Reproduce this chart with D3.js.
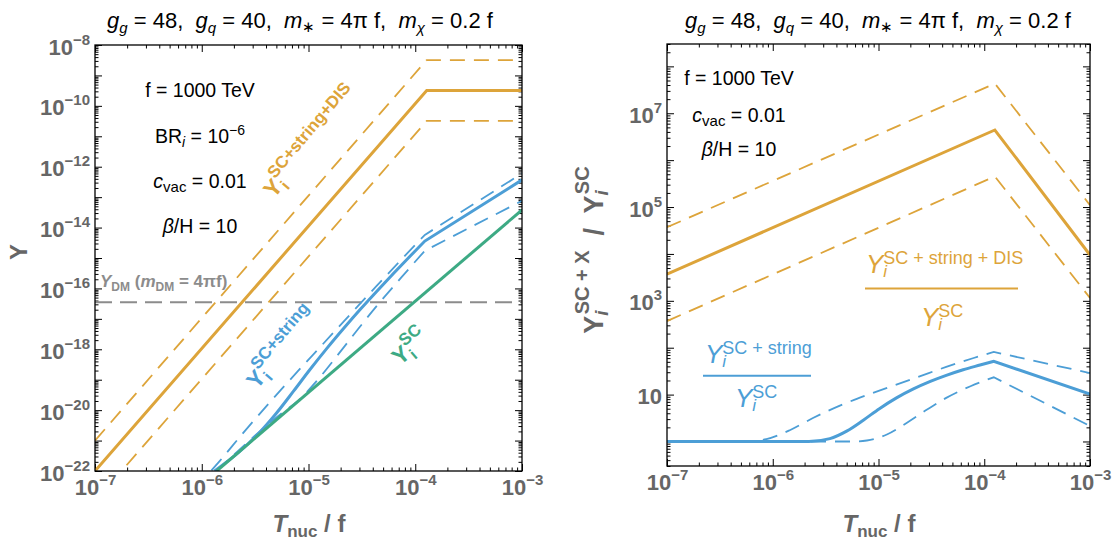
<!DOCTYPE html>
<html>
<head>
<meta charset="utf-8">
<script src="https://cdn.jsdelivr.net/npm/d3@7"></script>
<style>
  body { margin: 0; background: #fff; }
  svg { font-family: "Liberation Sans", Arial, Helvetica, sans-serif; }
  text { white-space: pre; }
</style>
</head>
<body>
<svg id="chart" width="1119" height="543"></svg>
<script>
// ---------- tick labels (powers of ten) ----------
const xLabelExps = [-7, -6, -5, -4, -3];
const leftYLabelExps = [-22, -20, -18, -16, -14, -12, -10, -8];
const rightYLabelExps = [1, 3, 5, 7];

// ---------- left panel: yields Y versus T_nuc / f ----------
const yieldDM = 3.5e-17;

const orangeT = [1e-7, 1.28e-4, 1e-3];
const orangeY = [1e-22, 3.2e-10, 3.2e-10];
const orangeYHi = [1e-21, 3.2e-9, 3.2e-9];
const orangeYLo = [1e-23, 3.2e-11, 3.2e-11];

const scT = [1.38e-6, 1e-3];
const scY = [1e-22, 3.8e-14];

const kinkT = 1.23e-4;

const strT = [1.32e-6, 2.2e-6, 3.47e-6, 5.0e-6, 7.24e-6, 1.02e-5, 1.48e-5, 2.14e-5, 3.09e-5, 4.37e-5, 6.31e-5, 9.12e-5, 1.23e-4, 1e-3];
const strY = [1e-22, 4.0e-22, 1.82e-21, 7.9e-21, 4.2e-20, 2.04e-19, 1.05e-18, 4.9e-18, 2.14e-17, 8.1e-17, 3.2e-16, 1.23e-15, 3.6e-15, 3.7e-13];

const strHiT = [8.7e-7, 1.45e-6, 2.4e-6, 4.37e-6, 7.76e-6, 1.38e-5, 2.45e-5, 4.37e-5, 7.94e-5, 1.23e-4, 1e-3];
const strHiY = [2.8e-23, 2.0e-22, 1.66e-21, 1.86e-20, 1.74e-19, 1.55e-18, 1.38e-17, 1.23e-16, 1.15e-15, 5.75e-15, 6.0e-13];

const strLoT = [1.38e-6, 6.0e-6, 7.76e-6, 1.20e-5, 1.86e-5, 2.88e-5, 4.37e-5, 7.41e-5, 1.23e-4, 1e-3];
const strLoY = [1e-22, 9.5e-21, 1.86e-20, 9.3e-20, 6.2e-19, 4.4e-18, 2.7e-17, 2.3e-16, 1.74e-15, 7.6e-14];

// ---------- right panel: ratios Y^(SC+X) / Y^SC ----------
const disRatioT = [1e-7, 1.26e-4, 1e-3];
const disRatio = [3.7e3, 4.4e6, 9.5e3];
const disRatioHi = [3.7e4, 4.3e7, 1.1e5];
const disRatioLo = [370, 4.5e5, 1.15e3];

const strRatioT = [1e-7, 2.2e-6, 3.47e-6, 5.0e-6, 7.24e-6, 1.02e-5, 1.48e-5, 2.14e-5, 3.09e-5, 4.37e-5, 6.31e-5, 9.12e-5, 1.23e-4, 1e-3];
const strRatio = [1, 1, 1.15, 1.66, 2.88, 5.01, 8.51, 13.2, 19.1, 25.7, 33.9, 42.7, 51.3, 10.2];

const strRatioHiT = [1e-7, 5.6e-7, 8.7e-7, 1.45e-6, 2.4e-6, 4.37e-6, 7.76e-6, 1.38e-5, 2.45e-5, 4.37e-5, 7.94e-5, 1.23e-4, 1e-3];
const strRatioHi = [1, 1, 1.12, 1.74, 3.16, 5.89, 9.77, 15.5, 24.5, 38.9, 60.3, 81.3, 28.8];

const strRatioLoT = [1e-7, 6.0e-6, 7.76e-6, 1.20e-5, 1.86e-5, 2.88e-5, 4.37e-5, 7.41e-5, 1.23e-4, 1e-3];
const strRatioLo = [1, 1, 1.05, 1.41, 2.51, 4.79, 8.51, 15.1, 23.4, 2.14];

// ---------- styling ----------
const ORANGE = "#DDA43A";
const BLUE = "#4C9ED6";
const GREEN = "#3DAA84";
const GRAY_TXT = "#666666";
const DASH = "15,9";

const svg = d3.select("#chart");
const defs = svg.append("defs");

function decades(lo, hi) {
  const out = [];
  for (let e = Math.ceil(Math.log10(lo) - 1e-9); e <= Math.floor(Math.log10(hi) + 1e-9); e++) out.push(Math.pow(10, e));
  return out;
}
function minors(lo, hi) {
  const out = [];
  for (let e = Math.floor(Math.log10(lo)) - 1; e <= Math.ceil(Math.log10(hi)); e++) {
    for (let k = 2; k <= 9; k++) {
      const v = k * Math.pow(10, e);
      if (v >= lo * 0.9999 && v <= hi * 1.0001) out.push(v);
    }
  }
  return out;
}
function powText(sel, v, sup) {
  const e = Math.round(Math.log10(v));
  sel.text(null);
  if (e === 1) { sel.text("10"); return; }
  sel.append("tspan").text("10");
  sel.append("tspan").attr("font-size", sup.size).attr("dy", sup.dy)
    .text(e < 0 ? "\u2212" + (-e) : String(e));
}

function makePanel(cfg) {
  const x = d3.scaleLog().domain([1e-7, 1e-3]).range([cfg.left, cfg.right]);
  const y = d3.scaleLog().domain(cfg.yDomain).range([cfg.bottom, cfg.top]);
  const g = svg.append("g");

  const clipId = "clip-" + cfg.id;
  defs.append("clipPath").attr("id", clipId).append("rect")
    .attr("x", cfg.left).attr("y", cfg.top)
    .attr("width", cfg.right - cfg.left).attr("height", cfg.bottom - cfg.top);

  const xMaj = decades(1e-7, 1e-3), xMin = minors(1e-7, 1e-3);
  const yMaj = decades(cfg.yDomain[0], cfg.yDomain[1]), yMin = minors(cfg.yDomain[0], cfg.yDomain[1]);
  const labX = new Set(xLabelExps);
  const labY = new Set(cfg.yLabelExps);

  const axes = g.append("g").attr("class", "axes");
  const styleTicks = sel => {
    sel.select(".domain").remove();
    sel.selectAll(".tick line").attr("stroke", "#000").attr("stroke-width", 1);
  };

  // minor ticks on all four sides
  axes.append("g").attr("transform", `translate(0,${cfg.bottom})`)
    .call(d3.axisBottom(x).tickValues(xMin).tickSize(-3.5).tickFormat("")).call(styleTicks);
  axes.append("g").attr("transform", `translate(0,${cfg.top})`)
    .call(d3.axisTop(x).tickValues(xMin).tickSize(-3.5).tickFormat("")).call(styleTicks);
  axes.append("g").attr("transform", `translate(${cfg.left},0)`)
    .call(d3.axisLeft(y).tickValues(yMin).tickSize(-3.5).tickFormat("")).call(styleTicks);
  axes.append("g").attr("transform", `translate(${cfg.right},0)`)
    .call(d3.axisRight(y).tickValues(yMin).tickSize(-3.5).tickFormat("")).call(styleTicks);

  // major ticks with power-of-ten labels
  const bx = axes.append("g").attr("transform", `translate(0,${cfg.bottom})`)
    .call(d3.axisBottom(x).tickValues(xMaj).tickSize(-7).tickFormat(d => d)).call(styleTicks);
  bx.selectAll(".tick text").each(function (d) {
    const t = d3.select(this);
    if (!labX.has(Math.round(Math.log10(d)))) { t.remove(); return; }
    t.attr("y", 24).attr("dy", 0);
    powText(t, d, { size: 15, dy: -10 });
  }).attr("fill", GRAY_TXT).attr("font-size", 22).attr("font-weight", "bold")
    .attr("font-family", "Liberation Sans, Arial, sans-serif");

  axes.append("g").attr("transform", `translate(0,${cfg.top})`)
    .call(d3.axisTop(x).tickValues(xMaj).tickSize(-7).tickFormat("")).call(styleTicks);

  const ly = axes.append("g").attr("transform", `translate(${cfg.left},0)`)
    .call(d3.axisLeft(y).tickValues(yMaj).tickSize(-7).tickFormat(d => d)).call(styleTicks);
  ly.selectAll(".tick text").each(function (d) {
    const t = d3.select(this);
    if (!labY.has(Math.round(Math.log10(d)))) { t.remove(); return; }
    t.attr("x", -5).attr("y", 9).attr("dy", 0);
    powText(t, d, { size: 15, dy: -10 });
  }).attr("fill", GRAY_TXT).attr("font-size", 22).attr("font-weight", "bold")
    .attr("font-family", "Liberation Sans, Arial, sans-serif");

  axes.append("g").attr("transform", `translate(${cfg.right},0)`)
    .call(d3.axisRight(y).tickValues(yMaj).tickSize(-7).tickFormat("")).call(styleTicks);

  const plot = g.append("g").attr("clip-path", `url(#${clipId})`);

  g.append("rect").attr("x", cfg.left).attr("y", cfg.top)
    .attr("width", cfg.right - cfg.left).attr("height", cfg.bottom - cfg.top)
    .attr("fill", "none").attr("stroke", "#000").attr("stroke-width", 1.3);

  return { x, y, g, plot, cfg };
}

// draw a series: smooth up to the kink, straight after it
function series(p, T, V, style) {
  const pts = T.map((t, i) => [p.x(t), p.y(V[i])]);
  const kx = p.x(style.kink || 1e9);
  const head = pts.filter(d => d[0] <= kx + 0.01);
  const tail = pts.filter(d => d[0] >= kx - 0.01);
  const curve = style.smooth ? d3.curveMonotoneX : d3.curveLinear;
  const gen = d3.line().curve(curve);
  let dStr = gen(head);
  if (tail.length > 1) dStr += d3.line()(tail).replace(/^M/, "L");
  p.plot.append("path").attr("d", dStr)
    .attr("fill", "none").attr("stroke", style.color)
    .attr("stroke-width", style.width)
    .attr("stroke-dasharray", style.dash || null)
    .attr("stroke-linejoin", "miter");
}

function title(cx) {
  const t = svg.append("text").attr("x", cx).attr("y", 28).attr("text-anchor", "middle")
    .attr("font-size", 22).attr("fill", "#000").attr("xml:space", "preserve");
  const add = (s, o = {}) => {
    const ts = t.append("tspan").text(s);
    if (o.it) ts.attr("font-style", "italic");
    if (o.size) ts.attr("font-size", o.size);
    if (o.dy) ts.attr("dy", o.dy);
    return ts;
  };
  add("g", { it: 1 }); add("g", { it: 1, size: 15, dy: 5 }); add(" = 48,  ", { dy: -5 });
  add("g", { it: 1 }); add("q", { it: 1, size: 15, dy: 5 }); add(" = 40,  ", { dy: -5 });
  add("m", { it: 1 }); add("\u2217", { size: 15, dy: 4 }); add(" = 4\u03C0 f,  ", { dy: -4 });
  add("m", { it: 1 }); add("\u03C7", { it: 1, size: 15, dy: 5 }); add(" = 0.2 f", { dy: -5 });
}

function xTitle(cx) {
  const t = svg.append("text").attr("x", cx).attr("y", 532).attr("text-anchor", "middle")
    .attr("font-size", 24).attr("font-weight", "bold").attr("fill", GRAY_TXT);
  t.append("tspan").attr("font-style", "italic").text("T");
  t.append("tspan").attr("font-size", 17).attr("dy", 5).text("nuc");
  t.append("tspan").attr("dy", -5).text(" / f");
}

// ================= left panel =================
const L = makePanel({ id: "left", left: 95, right: 522, top: 45, bottom: 471,
  yDomain: [1e-22, 1e-8], yLabelExps: leftYLabelExps });

L.plot.append("line")
  .attr("x1", L.cfg.left).attr("x2", L.cfg.right)
  .attr("y1", L.y(yieldDM)).attr("y2", L.y(yieldDM))
  .attr("stroke", "#8c8c8c").attr("stroke-width", 2).attr("stroke-dasharray", "17,8");

series(L, orangeT, orangeYHi, { color: ORANGE, width: 1.8, dash: DASH });
series(L, orangeT, orangeYLo, { color: ORANGE, width: 1.8, dash: DASH });
series(L, orangeT, orangeY, { color: ORANGE, width: 3 });

series(L, strLoT, strLoY, { color: BLUE, width: 1.8, dash: DASH, smooth: true, kink: kinkT });
series(L, strHiT, strHiY, { color: BLUE, width: 1.8, dash: DASH, smooth: true, kink: kinkT });
series(L, strT, strY, { color: BLUE, width: 3, smooth: true, kink: kinkT });
series(L, scT, scY, { color: GREEN, width: 3 });

// parameter block
{
  const cx = 200;
  const mk = y => svg.append("text").attr("x", cx).attr("y", y).attr("font-size", 19.5)
    .attr("fill", "#000").attr("text-anchor", "middle");
  mk(97).text("f = 1000 TeV");
  let t = mk(143);
  t.append("tspan").text("BR");
  t.append("tspan").attr("font-style", "italic").attr("font-size", 14).attr("dy", 4).text("i");
  t.append("tspan").attr("dy", -4).text(" = 10");
  t.append("tspan").attr("font-size", 14).attr("dy", -8).text("\u22126");
  t = mk(188);
  t.append("tspan").attr("font-style", "italic").text("c");
  t.append("tspan").attr("font-size", 15).attr("dy", 4).text("vac");
  t.append("tspan").attr("dy", -4).text(" = 0.01");
  t = mk(233);
  t.append("tspan").attr("font-style", "italic").text("\u03B2");
  t.append("tspan").text("/H = 10");
}

// Y_DM label
{
  const t = svg.append("text").attr("x", 100).attr("y", 287).attr("font-size", 17)
    .attr("font-weight", "bold").attr("fill", "#8c8c8c");
  t.append("tspan").attr("font-style", "italic").text("Y");
  t.append("tspan").attr("font-size", 12).attr("dy", 4).text("DM");
  t.append("tspan").attr("dy", -4).text(" (");
  t.append("tspan").attr("font-style", "italic").text("m");
  t.append("tspan").attr("font-size", 12).attr("dy", 4).text("DM");
  t.append("tspan").attr("dy", -4).text(" = 4\u03C0f)");
}

// rotated curve labels
function curveLabel(x, y, angle, color, sup) {
  const t = svg.append("text").attr("transform", `translate(${x},${y}) rotate(${angle})`)
    .attr("font-weight", "bold").attr("fill", color).attr("font-size", 23);
  t.append("tspan").text("Y");
  t.append("tspan").attr("font-size", 16).attr("dy", 5).text("i");
  t.append("tspan").attr("font-size", 17).attr("dx", -4).attr("dy", -17).text(sup);
}
curveLabel(274, 199, -50, ORANGE, "SC+string+DIS");
curveLabel(257, 390, -50, BLUE, "SC+string");
curveLabel(400, 366, -40, GREEN, "SC");

// y axis title
svg.append("text").attr("transform", "translate(27,252) rotate(-90)")
  .attr("text-anchor", "middle").attr("font-size", 24).attr("font-weight", "bold")
  .attr("fill", GRAY_TXT).text("Y");

// ================= right panel =================
const R = makePanel({ id: "right", left: 667, right: 1090, top: 44, bottom: 466,
  yDomain: [0.3, 3e8], yLabelExps: rightYLabelExps });

series(R, disRatioT, disRatioHi, { color: ORANGE, width: 1.8, dash: DASH });
series(R, disRatioT, disRatioLo, { color: ORANGE, width: 1.8, dash: DASH });
series(R, disRatioT, disRatio, { color: ORANGE, width: 3 });

series(R, strRatioHiT, strRatioHi, { color: BLUE, width: 1.8, dash: DASH, smooth: true, kink: kinkT });
series(R, strRatioLoT, strRatioLo, { color: BLUE, width: 1.8, dash: DASH, smooth: true, kink: kinkT });
series(R, strRatioT, strRatio, { color: BLUE, width: 3, smooth: true, kink: kinkT });

// parameter block
{
  const cx = 739;
  const mk = y => svg.append("text").attr("x", cx).attr("y", y).attr("font-size", 19.5)
    .attr("fill", "#000").attr("text-anchor", "middle");
  mk(85).text("f = 1000 TeV");
  let t = mk(122);
  t.append("tspan").attr("font-style", "italic").text("c");
  t.append("tspan").attr("font-size", 15).attr("dy", 4).text("vac");
  t.append("tspan").attr("dy", -4).text(" = 0.01");
  t = mk(156);
  t.append("tspan").attr("font-style", "italic").text("\u03B2");
  t.append("tspan").text("/H = 10");
}

// fraction labels
function fracPart(x, y, color, sup) {
  const t = svg.append("text").attr("x", x).attr("y", y).attr("fill", color).attr("font-size", 26);
  t.append("tspan").attr("font-style", "italic").text("Y");
  t.append("tspan").attr("font-style", "italic").attr("font-size", 17).attr("dy", 4).text("i");
  t.append("tspan").attr("font-size", 18).attr("dx", -4).attr("dy", -13).text(sup);
}
fracPart(866, 273, ORANGE, "SC + string + DIS");
svg.append("line").attr("x1", 865).attr("x2", 1018).attr("y1", 288.5).attr("y2", 288.5)
  .attr("stroke", ORANGE).attr("stroke-width", 2);
fracPart(921, 326, ORANGE, "SC");

fracPart(705, 363, BLUE, "SC + string");
svg.append("line").attr("x1", 703).attr("x2", 811).attr("y1", 375.7).attr("y2", 375.7)
  .attr("stroke", BLUE).attr("stroke-width", 2);
fracPart(735, 407, BLUE, "SC");

// y axis title (ratio)
{
  const t = svg.append("text").attr("transform", "translate(603,250) rotate(-90)")
    .attr("text-anchor", "middle").attr("font-size", 27).attr("font-weight", "bold")
    .attr("fill", GRAY_TXT).attr("xml:space", "preserve");
  t.append("tspan").text("Y");
  t.append("tspan").attr("font-style", "italic").attr("font-size", 19).attr("dy", 5).text("i");
  t.append("tspan").attr("font-size", 20).attr("dx", -4).attr("dy", -19).text("SC + X");
  t.append("tspan").attr("dy", 14).text("  /  Y");
  t.append("tspan").attr("font-style", "italic").attr("font-size", 19).attr("dy", 5).text("i");
  t.append("tspan").attr("font-size", 20).attr("dx", -4).attr("dy", -19).text("SC");
}

title(300);
title(878);
xTitle(309);
xTitle(879);
</script>
</body>
</html>
